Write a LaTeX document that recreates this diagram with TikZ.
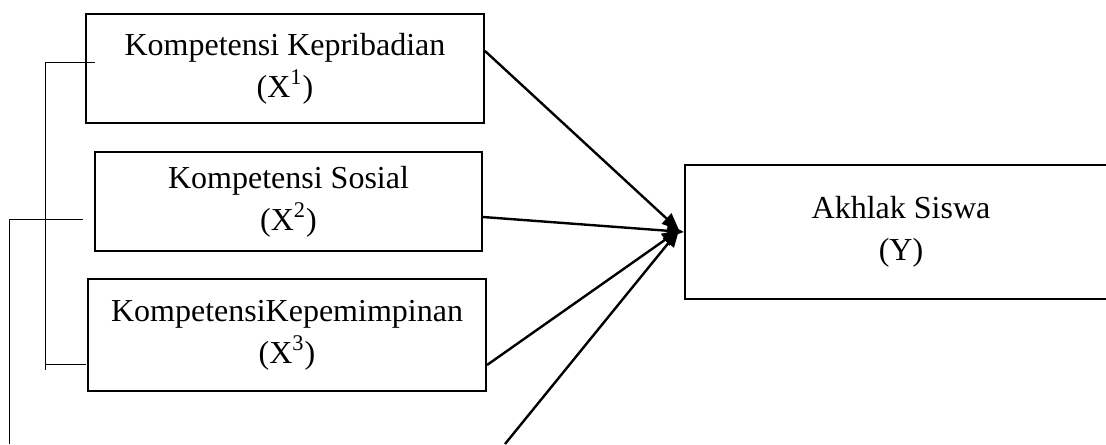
\documentclass[tikz,border=0pt]{standalone}
\usepackage{fontspec}
\setmainfont{Liberation Serif}
\usetikzlibrary{arrows.meta}
\tikzset{
  varbox/.style={draw, line width=1pt, align=center, inner sep=0pt,
    font=\fontsize{16}{21}\selectfont},
  arr/.style={line width=1.2pt, -{Triangle[length=8.5pt,width=7pt]}},
  thin/.style={line width=0.5pt}
}
\begin{document}
\begin{tikzpicture}[x=0.5pt, y=-0.5pt]
\clip (0,0) rectangle (1106,444);
\node[varbox, minimum width=199pt, minimum height=54.5pt] (X1) at (285,68.5)
    {Kompetensi Kepribadian\\(X\textsuperscript{1})};
\node[varbox, minimum width=193.5pt, minimum height=49.5pt] (X2) at (288.5,201.5)
    {Kompetensi Sosial\\(X\textsuperscript{2})};
\node[varbox, minimum width=199pt, minimum height=56pt] (X3) at (287,335)
    {KompetensiKepemimpinan\\(X\textsuperscript{3})};
\node[varbox, minimum width=216pt, minimum height=67pt] (Y) at (901,232)
    {Akhlak Siswa\\(Y)};
\coordinate (hub) at (679,230);
\coordinate (low) at (505,444);
\draw[arr] ([yshift=8.75pt]X1.east) -- (hub);
\draw[arr] ([yshift=-7.75pt]X2.east) -- (Y.west);
\draw[arr] ([yshift=-15pt]X3.east) -- (hub);
\draw[arr] (low) -- (hub);
\coordinate (b1) at (45,63);
\coordinate (b3) at (45,364);
\coordinate (b2) at (9,219);
\draw[thin] (45,63) -- (45,370);
\draw[thin] (b1) -- (95,63);
\draw[thin] (b3) -- (86,364);
\draw[thin] (9,444) -- (b2) -- (83,219);
\end{tikzpicture}
\end{document}
